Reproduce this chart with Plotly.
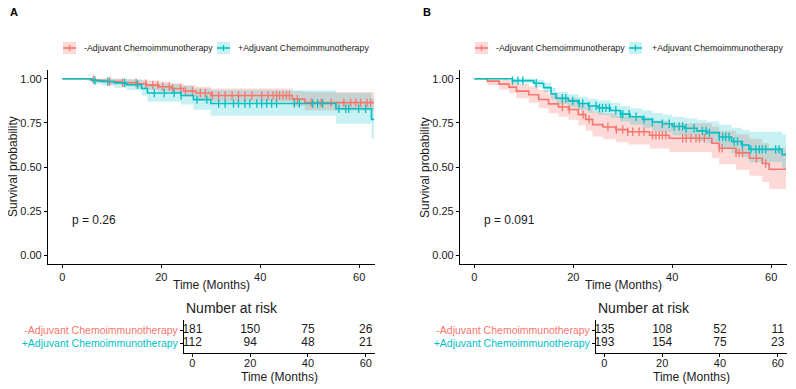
import numpy as np
import plotly.graph_objects as go

# ---------------- DATA ----------------
groups = ["-Adjuvant Chemoimmunotherapy", "+Adjuvant Chemoimmunotherapy"]
risk_times = [0, 20, 40, 60]
x_ticks = [0, 20, 40, 60]
y_ticks = [0.0, 0.25, 0.5, 0.75, 1.0]
y_ticklabels = ["0.00", "0.25", "0.50", "0.75", "1.00"]

# Panel A
a_red_t = [0, 5.5, 7, 9, 12, 15, 17, 19.5, 22, 24.5, 27, 30, 46.5, 49, 63]
a_red_s = [1, 0.995, 0.99, 0.985, 0.978, 0.972, 0.964, 0.955, 0.945, 0.93, 0.92, 0.905, 0.885, 0.865, 0.865]
a_red_lo = [1, 0.985, 0.977, 0.968, 0.958, 0.95, 0.94, 0.929, 0.917, 0.9, 0.887, 0.87, 0.845, 0.82, 0.82]
a_red_hi = [1, 1, 1, 1, 0.998, 0.995, 0.99, 0.983, 0.975, 0.963, 0.955, 0.945, 0.93, 0.925, 0.925]
a_red_cens = [6.3, 9.6, 12.2, 14.9, 16.9, 18.3, 19.3, 20.3, 21.6, 22.3, 23.9, 24.9, 26.3, 27.9, 28.9,
              30.3, 31.6, 32.9, 34.3, 35.6, 36.9, 38.3, 40.3, 41.6, 42.6, 43.3, 43.9, 44.6, 45.3,
              45.9, 47.5, 50.3, 52.3, 54.3, 56.9, 58.3, 59.3, 60.3, 61.6, 62.3]

a_teal_t = [0, 6, 8, 10.5, 13, 16, 17.2, 24, 26.5, 30, 55.3, 62.5, 63]
a_teal_s = [1, 0.99, 0.985, 0.977, 0.966, 0.945, 0.92, 0.905, 0.882, 0.86, 0.83, 0.77, 0.77]
a_teal_lo = [1, 0.97, 0.962, 0.95, 0.936, 0.905, 0.87, 0.855, 0.825, 0.79, 0.745, 0.66, 0.66]
a_teal_hi = [1, 1, 1, 1, 0.998, 0.985, 0.97, 0.96, 0.945, 0.935, 0.92, 0.89, 0.89]
a_teal_cens = [6.6, 9.2, 12.6, 15.2, 18.6, 20.6, 22.6, 24.0, 27.2, 29.2, 31.6, 32.9, 34.6, 35.6,
               36.9, 37.9, 39.3, 40.3, 41.3, 42.3, 43.3, 46.9, 47.9, 50.6, 51.6, 52.6, 55.9, 57.3,
               57.9, 59.9, 61.3]
a_risk_red = [181, 150, 75, 26]
a_risk_teal = [112, 94, 48, 21]
a_pval = "p = 0.26"

# Panel B
b_red_t = [0, 2.6, 5, 7, 8.5, 11, 13, 15, 17, 19, 21, 22.5, 23.9, 26, 28.6, 31, 35.4, 39.4,
           48, 49.5, 52.9, 55.6, 58.2, 59.6, 63]
b_red_s = [1, 0.987, 0.97, 0.953, 0.93, 0.91, 0.883, 0.858, 0.84, 0.826, 0.797, 0.77, 0.74,
           0.727, 0.712, 0.70, 0.68, 0.663, 0.635, 0.606, 0.58, 0.55, 0.52, 0.487, 0.487]
b_red_lo = [1, 0.965, 0.94, 0.918, 0.89, 0.865, 0.833, 0.805, 0.785, 0.768, 0.735, 0.705, 0.673,
            0.658, 0.641, 0.628, 0.605, 0.585, 0.55, 0.515, 0.485, 0.45, 0.415, 0.375, 0.375]
b_red_hi = [1, 1, 1, 0.99, 0.972, 0.957, 0.935, 0.915, 0.9, 0.89, 0.865, 0.84, 0.815, 0.803,
            0.79, 0.78, 0.762, 0.748, 0.728, 0.705, 0.685, 0.66, 0.635, 0.61, 0.61]
b_red_cens = [17.8, 19.2, 22, 23.2, 27, 28.7, 30, 31, 32, 33.3, 34.3, 36, 36.7, 37.4, 38, 38.7,
              42.1, 42.8, 43.8, 44.8, 45.5, 46.5, 49.5, 50.1, 52.9, 53.5, 54.2, 57, 58.9]

b_teal_t = [0, 7.7, 12, 14, 15.5, 16.5, 19, 21, 23, 25, 27.5, 29.5, 31.5, 34, 36, 38, 40, 42.5,
            45, 47, 49.5, 52, 54, 55.5, 62.2, 63]
b_teal_s = [1, 0.99, 0.975, 0.95, 0.915, 0.89, 0.875, 0.86, 0.846, 0.835, 0.82, 0.8, 0.785,
            0.77, 0.755, 0.745, 0.73, 0.72, 0.705, 0.695, 0.67, 0.645, 0.625, 0.6, 0.57, 0.57]
b_teal_lo = [1, 0.976, 0.955, 0.925, 0.885, 0.857, 0.84, 0.823, 0.807, 0.795, 0.778, 0.756,
             0.74, 0.723, 0.706, 0.695, 0.678, 0.666, 0.648, 0.636, 0.607, 0.578, 0.555, 0.527,
             0.49, 0.49]
b_teal_hi = [1, 1, 0.995, 0.977, 0.948, 0.925, 0.912, 0.899, 0.887, 0.877, 0.864, 0.846, 0.833,
             0.82, 0.806, 0.797, 0.784, 0.776, 0.765, 0.758, 0.74, 0.722, 0.71, 0.70, 0.685, 0.685]
b_teal_cens = [7.7, 8.8, 9.8, 12.5, 17.8, 18.5, 19.9, 21.2, 21.9, 23.2, 24.6, 25.3, 25.9, 26.6,
               27.3, 28.6, 29.6, 30, 31.3, 32.7, 34.3, 36, 38, 39.4, 40.4, 41.4, 42.1, 42.8, 44.4,
               46.1, 46.8, 47.5, 49.5, 50.2, 50.8, 51.5, 52.5, 53.2, 54.2, 55.9, 56.9, 57.6, 58.2,
               58.9, 60.9, 61.6]
b_risk_red = [135, 108, 52, 11]
b_risk_teal = [193, 154, 75, 23]
b_pval = "p = 0.091"

# ---------------- STYLE ----------------
OFF = 8  # default body margin of the html page
W, H = 796 - OFF, 389 - OFF
RED = "#F8766D"
TEAL = "#00BFC4"
RED_F = "rgba(248,118,109,0.27)"
TEAL_F = "rgba(0,191,196,0.22)"
FONT = "Liberation Sans, Arial, sans-serif"
TXT = "#1a1a1a"
XR = [-2.9, 63.2]


def px(x):
    return (x - OFF) / W


def py(y):
    return 1 - (y - OFF) / H


fig = go.Figure()


def step_val(t, s, c):
    idx = np.searchsorted(np.array(t), np.array(c), side="right") - 1
    return np.array(s)[idx]


def add_panel(n, curves, risk, pval):
    xa = "x" if n == 0 else "x3"
    ya = "y" if n == 0 else "y3"
    xt = "x2" if n == 0 else "x4"
    yt = "y2" if n == 0 else "y4"
    for (t, s, lo, hi, cens, col, fcol) in curves:
        fig.add_trace(go.Scatter(x=t, y=lo, mode="lines", line=dict(width=0, shape="hv"),
                                 xaxis=xa, yaxis=ya, showlegend=False, hoverinfo="skip"))
        fig.add_trace(go.Scatter(x=t, y=hi, mode="lines", line=dict(width=0, shape="hv"),
                                 fill="tonexty", fillcolor=fcol,
                                 xaxis=xa, yaxis=ya, showlegend=False, hoverinfo="skip"))
    for (t, s, lo, hi, cens, col, fcol) in curves:
        fig.add_trace(go.Scatter(x=t, y=s, mode="lines", line=dict(width=1.6, shape="hv", color=col),
                                 xaxis=xa, yaxis=ya, showlegend=False))
        fig.add_trace(go.Scatter(x=cens, y=step_val(t, s, cens), mode="markers",
                                 marker=dict(symbol="line-ns", size=6,
                                             line=dict(width=1.3, color=col)),
                                 xaxis=xa, yaxis=ya, showlegend=False))
    for row, (vals, col) in enumerate(risk):
        fig.add_trace(go.Scatter(x=risk_times, y=[2 - row] * 4, mode="text",
                                 text=[str(v) for v in vals],
                                 textfont=dict(size=12, color=TXT, family=FONT),
                                 xaxis=xt, yaxis=yt, showlegend=False))
    fig.add_annotation(x=1.6, y=0.2, xref=xa, yref=ya, text=pval, showarrow=False,
                       xanchor="left", yanchor="middle", font=dict(size=12, color=TXT, family=FONT))


add_panel(0,
          [(a_red_t, a_red_s, a_red_lo, a_red_hi, a_red_cens, RED, RED_F),
           (a_teal_t, a_teal_s, a_teal_lo, a_teal_hi, a_teal_cens, TEAL, TEAL_F)],
          [(a_risk_red, RED), (a_risk_teal, TEAL)], a_pval)
add_panel(1,
          [(b_red_t, b_red_s, b_red_lo, b_red_hi, b_red_cens, RED, RED_F),
           (b_teal_t, b_teal_s, b_teal_lo, b_teal_hi, b_teal_cens, TEAL, TEAL_F)],
          [(b_risk_red, RED), (b_risk_teal, TEAL)], b_pval)

axis_common = dict(showline=True, linecolor="black", linewidth=1.1, ticks="outside",
                   ticklen=3, tickcolor="black", tickwidth=1.1, showgrid=False, zeroline=False,
                   tickfont=dict(size=11, color=TXT, family=FONT))

row_ticktext = [f"<span style='color:{TEAL}'>{groups[1]}</span>",
                f"<span style='color:{RED}'>{groups[0]}</span>"]

layout = dict(width=W, height=H, margin=dict(l=0, r=0, t=0, b=0),
              paper_bgcolor="white", plot_bgcolor="white", showlegend=False,
              font=dict(family=FONT, color=TXT))

for n, (xl, xr, txl) in enumerate([(48, 375, 184), (460, 787, 596)]):
    sfx_main = "" if n == 0 else "3"
    sfx_tab = "2" if n == 0 else "4"
    layout["xaxis" + sfx_main] = dict(domain=[px(xl), px(xr)], range=XR, tickvals=x_ticks,
                                      anchor="y" + sfx_main, **axis_common)
    layout["yaxis" + sfx_main] = dict(domain=[py(264), py(70)], range=[-0.05, 1.05],
                                      tickvals=y_ticks, ticktext=y_ticklabels,
                                      anchor="x" + sfx_main, **axis_common)
    tab_x = dict(axis_common)
    tab_x["ticklabelstandoff"] = -3
    layout["xaxis" + sfx_tab] = dict(domain=[px(txl), px(xr)], range=XR, tickvals=x_ticks,
                                     anchor="y" + sfx_tab, **tab_x)
    tab_y = dict(axis_common)
    tab_y["tickfont"] = dict(size=10.5, family=FONT)
    layout["yaxis" + sfx_tab] = dict(domain=[py(353), py(320)], range=[0.23, 2.77],
                                     tickvals=[1, 2], ticktext=row_ticktext,
                                     anchor="x" + sfx_tab, **tab_y)

fig.update_layout(**layout)


def label(x, y, text, size, xanchor="center", angle=0, bold=False):
    fig.add_annotation(x=px(x), y=py(y), xref="paper", yref="paper",
                       text=f"<b>{text}</b>" if bold else text, showarrow=False,
                       xanchor=xanchor, yanchor="middle", textangle=angle,
                       font=dict(size=size, color=TXT if not bold else "black", family=FONT))


for n, (xl, xr, txl) in enumerate([(48, 375, 184), (460, 787, 596)]):
    label((xl + xr) / 2, 285, "Time (Months)", 12)
    label(xl - 35, 167, "Survival probability", 12, angle=-90)
    label(txl, 308, "Number at risk", 14, xanchor="left")
    label((txl + xr) / 2, 377, "Time (Months)", 12)

label(13.5, 12, "A", 11, bold=True)
label(427, 12, "B", 11, bold=True)

legend_items = [
    (63, 82, RED, RED_F, groups[0]), (217, 236, TEAL, TEAL_F, groups[1]),
    (475, 494, RED, RED_F, groups[0]), (629, 650, TEAL, TEAL_F, groups[1]),
]
for kx, tx, col, fcol, lab in legend_items:
    fig.add_shape(type="rect", xref="paper", yref="paper", x0=px(kx), x1=px(kx + 13),
                  y0=py(54), y1=py(42), fillcolor=fcol, line=dict(width=0))
    fig.add_shape(type="line", xref="paper", yref="paper", x0=px(kx), x1=px(kx + 13),
                  y0=py(48), y1=py(48), line=dict(color=col, width=1.6))
    fig.add_shape(type="line", xref="paper", yref="paper", x0=px(kx + 6.5), x1=px(kx + 6.5),
                  y0=py(45), y1=py(51), line=dict(color=col, width=1.3))
    label(tx, 48, lab, 8.8, xanchor="left")

fig.write_html("out.html")
